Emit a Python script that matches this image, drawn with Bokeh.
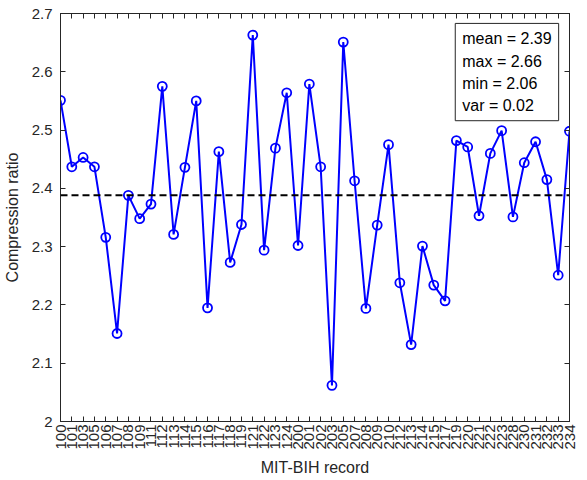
import numpy as np
from bokeh.plotting import figure
from bokeh.models import FixedTicker, LinearAxis, Span, Label, Range1d
from bokeh.embed import file_html
from bokeh.resources import INLINE

records = [100, 101, 103, 105, 106, 107, 108, 109, 111, 112, 113, 114, 115, 116,
           117, 118, 119, 121, 122, 123, 124, 200, 201, 202, 203, 205, 207, 208,
           209, 210, 212, 213, 214, 215, 217, 219, 220, 221, 222, 223, 228, 230,
           231, 232, 233, 234]
ratios = [2.551, 2.437, 2.453, 2.437, 2.316, 2.151, 2.388, 2.348, 2.373, 2.575,
          2.321, 2.436, 2.550, 2.195, 2.463, 2.273, 2.338, 2.663, 2.294, 2.469,
          2.564, 2.302, 2.579, 2.437, 2.062, 2.651, 2.413, 2.194, 2.337, 2.475,
          2.238, 2.132, 2.301, 2.234, 2.207, 2.482, 2.471, 2.353, 2.460, 2.499,
          2.351, 2.444, 2.480, 2.415, 2.251, 2.498]
y_ticks = [2.0, 2.1, 2.2, 2.3, 2.4, 2.5, 2.6, 2.7]
y_tick_labels = ["2", "2.1", "2.2", "2.3", "2.4", "2.5", "2.6", "2.7"]

idx = list(range(1, len(records) + 1))
arr = np.array(ratios)
mean = float(arr.mean())
stats_text = "mean = %.2f\nmax = %.2f\nmin = %.2f\nvar = %.2f" % (
    mean, arr.max(), arr.min(), arr.var(ddof=1))

FONT = "Liberation Sans"
AX = "#262626"

p = figure(frame_width=509, frame_height=408,
           x_range=Range1d(1, len(records)), y_range=Range1d(2.0, 2.7),
           output_backend="svg", toolbar_location=None,
           min_border_left=53, min_border_right=9, min_border_top=13,
           min_border_bottom=56)
p.xgrid.visible = False
p.ygrid.visible = False
p.outline_line_color = AX
p.outline_line_width = 1

xt = FixedTicker(ticks=idx)
yt = FixedTicker(ticks=y_ticks)
p.xaxis.ticker = xt
p.yaxis.ticker = yt
p.xaxis.major_label_overrides = {i: str(r) for i, r in zip(idx, records)}
p.yaxis.major_label_overrides = {t: l for t, l in zip(y_ticks, y_tick_labels)}
p.xaxis.major_label_orientation = np.pi / 2
p.xaxis.axis_label = "MIT-BIH record"
p.yaxis.axis_label = "Compression ratio"

for ax in list(p.xaxis) + list(p.yaxis):
    ax.major_tick_in = 5
    ax.major_tick_out = 0
    ax.minor_tick_in = 0
    ax.minor_tick_out = 0
    ax.axis_line_color = AX
    ax.major_tick_line_color = AX
    ax.major_label_text_font = FONT
    ax.major_label_text_font_size = "15px"
    ax.major_label_text_color = AX
    ax.axis_label_text_font = FONT
    ax.axis_label_text_font_size = "16px"
    ax.axis_label_text_font_style = "normal"
    ax.axis_label_text_color = AX
p.yaxis.major_label_standoff = 8
p.yaxis.axis_label_standoff = 8
p.xaxis.major_label_standoff = 3
p.xaxis.axis_label_standoff = 6

top = LinearAxis(ticker=FixedTicker(ticks=idx),
                 major_label_overrides={i: "" for i in idx},
                 major_label_standoff=0, major_tick_in=5, major_tick_out=0,
                 minor_tick_in=0, minor_tick_out=0, axis_line_color=AX,
                 major_tick_line_color=AX)
right = LinearAxis(ticker=FixedTicker(ticks=y_ticks),
                   major_label_overrides={t: "" for t in y_ticks},
                   major_label_standoff=0, major_tick_in=5, major_tick_out=0,
                   minor_tick_in=0, minor_tick_out=0, axis_line_color=AX,
                   major_tick_line_color=AX)
p.add_layout(top, "above")
p.add_layout(right, "right")

p.add_layout(Span(location=mean, dimension="width", line_color="black",
                  line_width=2, line_dash="7 4"))

p.line(idx, ratios, line_color="#0000FF", line_width=2)
p.scatter(idx, ratios, marker="circle", size=9, fill_color=None,
          line_color="#0000FF", line_width=1.8)

p.add_layout(Label(x=35.9, y=2.683, x_units="data", y_units="data",
                   text=stats_text, text_font=FONT, text_font_size="16px",
                   text_color="black", text_align="left", text_baseline="top",
                   text_line_height=1.3, padding=7,
                   border_line_color=AX, border_line_width=1,
                   background_fill_color="white"))

open("out.html", "w").write(file_html(p, INLINE))
